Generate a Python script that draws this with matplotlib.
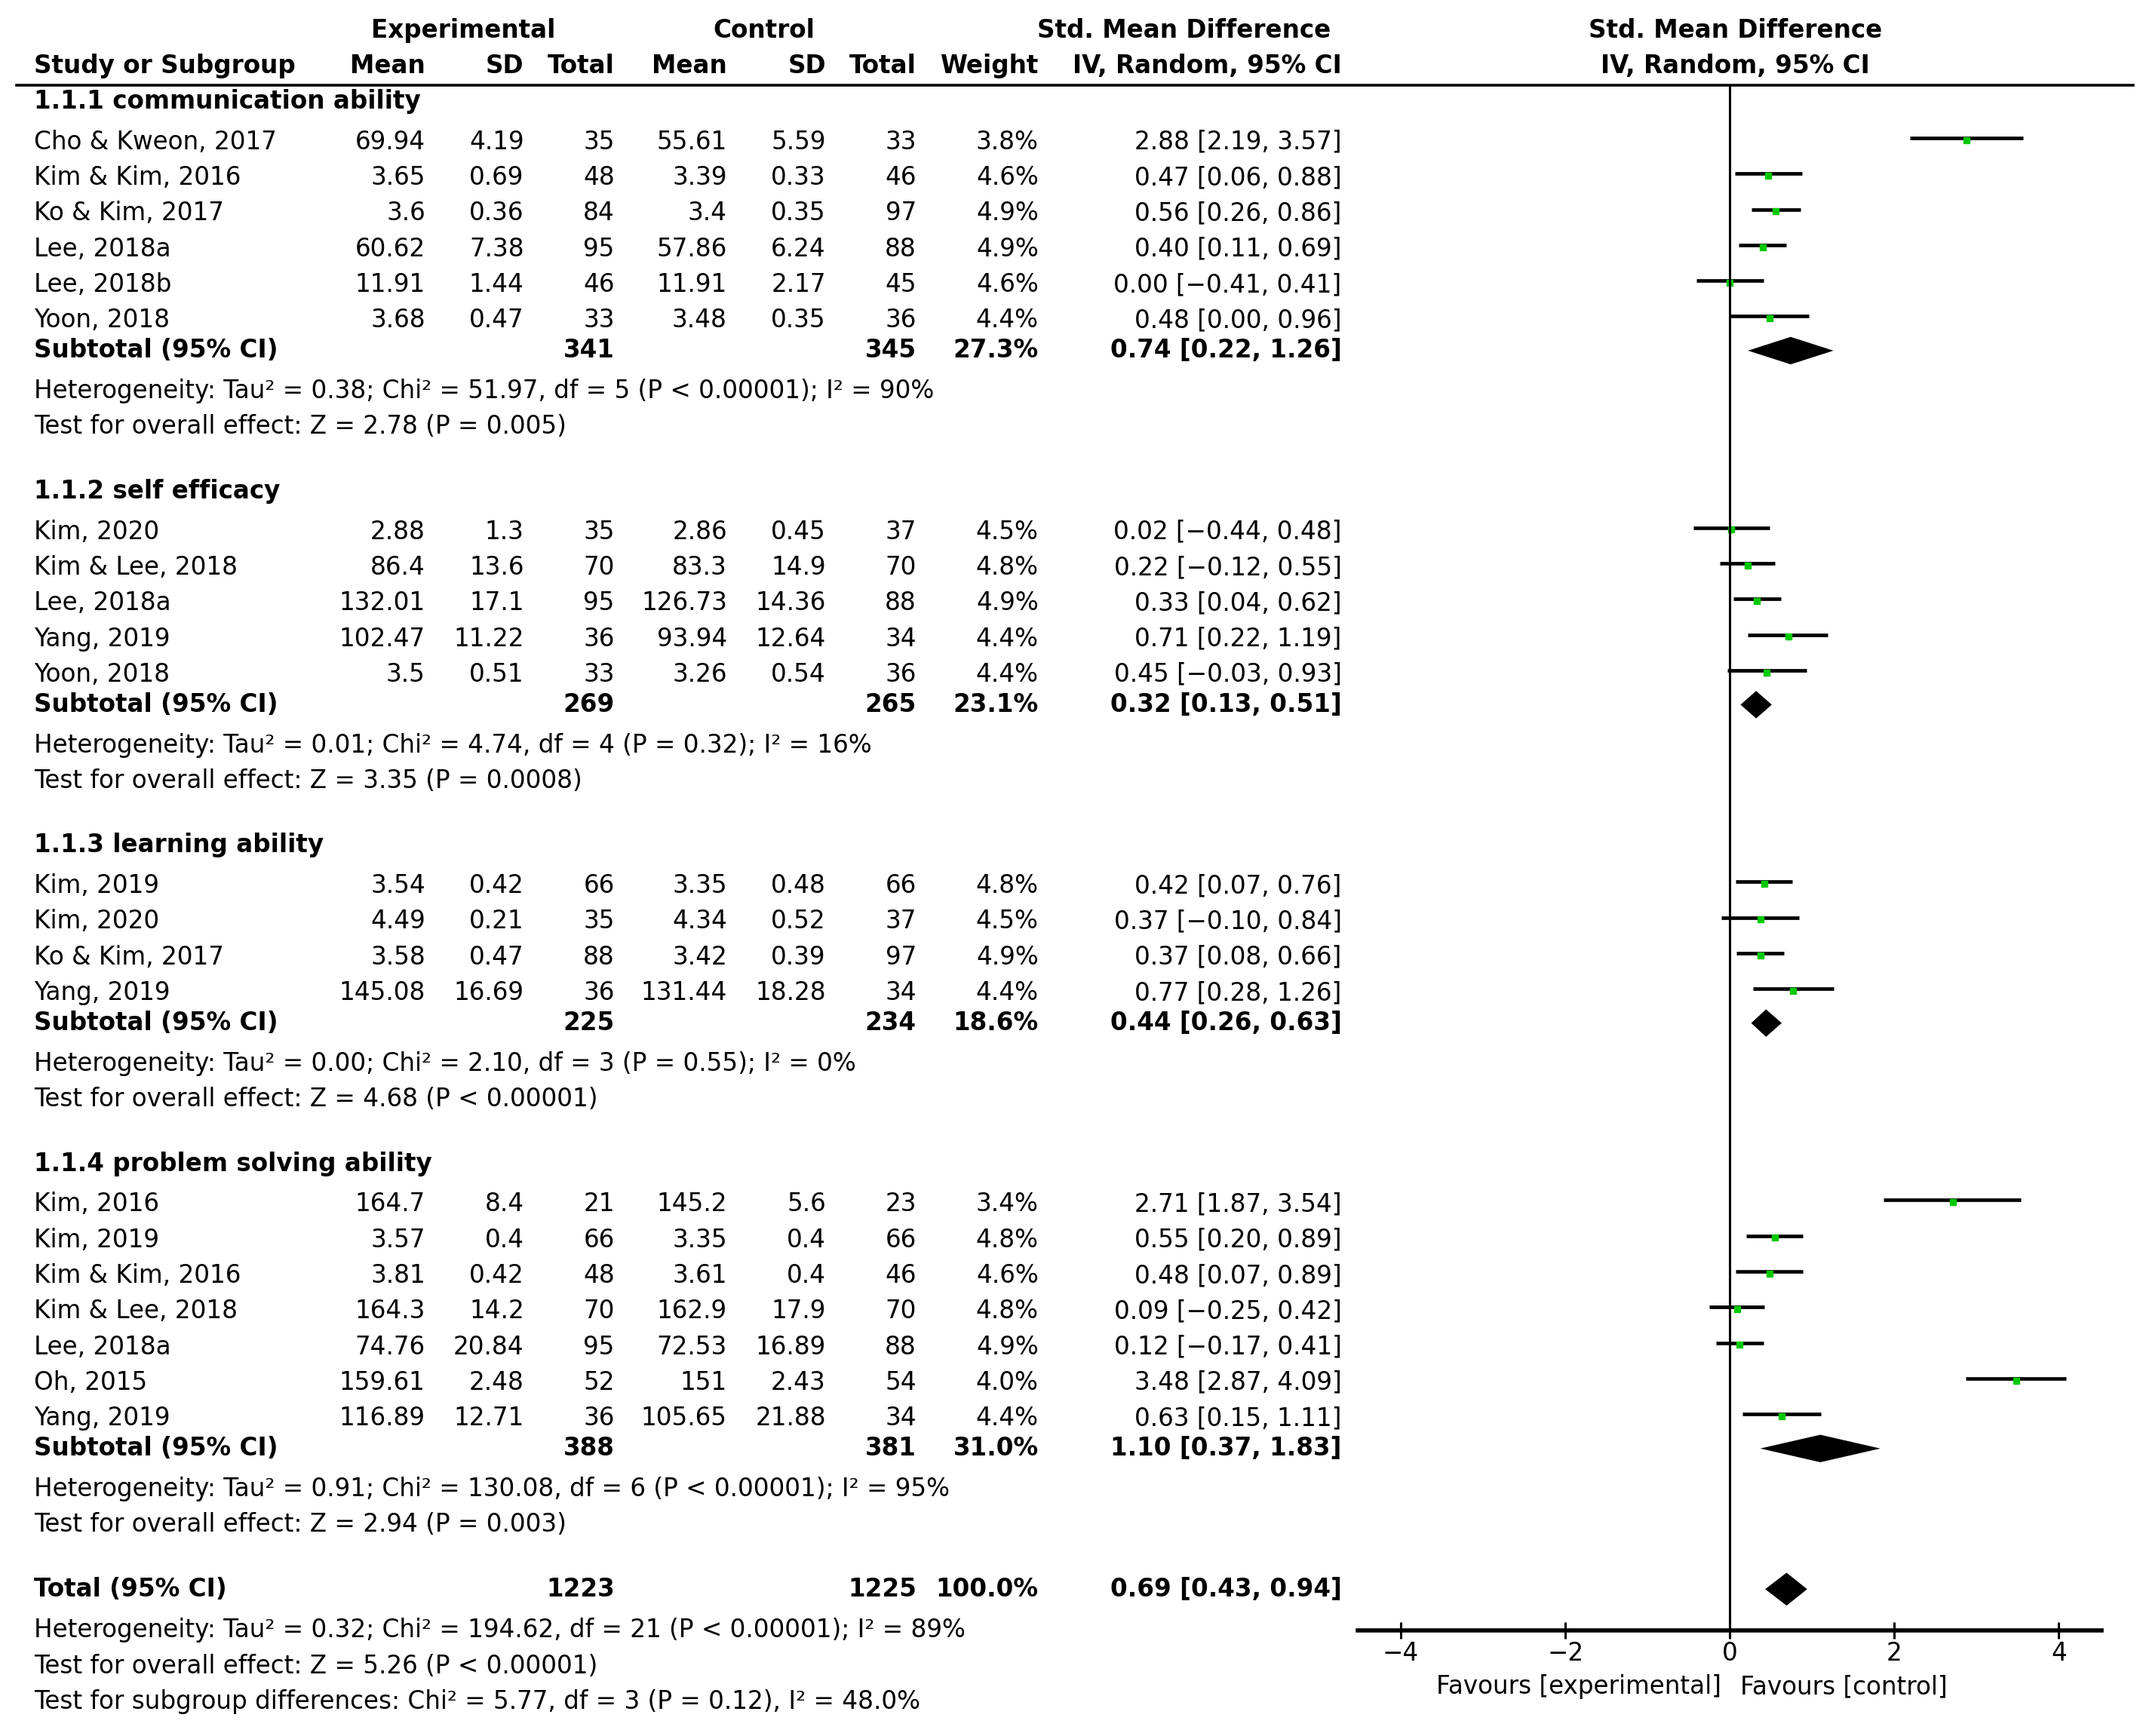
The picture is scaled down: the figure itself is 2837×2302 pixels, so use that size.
import numpy as np
import matplotlib
matplotlib.use("Agg")
import matplotlib.pyplot as plt

# ---- data ----
groups = ["1.1.1 communication ability", "1.1.2 self efficacy",
          "1.1.3 learning ability", "1.1.4 problem solving ability"]

study_names = [
    ["Cho & Kweon, 2017", "Kim & Kim, 2016", "Ko & Kim, 2017", "Lee, 2018a", "Lee, 2018b", "Yoon, 2018"],
    ["Kim, 2020", "Kim & Lee, 2018", "Lee, 2018a", "Yang, 2019", "Yoon, 2018"],
    ["Kim, 2019", "Kim, 2020", "Ko & Kim, 2017", "Yang, 2019"],
    ["Kim, 2016", "Kim, 2019", "Kim & Kim, 2016", "Kim & Lee, 2018", "Lee, 2018a", "Oh, 2015", "Yang, 2019"],
]
exp_mean = [["69.94", "3.65", "3.6", "60.62", "11.91", "3.68"],
            ["2.88", "86.4", "132.01", "102.47", "3.5"],
            ["3.54", "4.49", "3.58", "145.08"],
            ["164.7", "3.57", "3.81", "164.3", "74.76", "159.61", "116.89"]]
exp_sd = [["4.19", "0.69", "0.36", "7.38", "1.44", "0.47"],
          ["1.3", "13.6", "17.1", "11.22", "0.51"],
          ["0.42", "0.21", "0.47", "16.69"],
          ["8.4", "0.4", "0.42", "14.2", "20.84", "2.48", "12.71"]]
exp_n = [[35, 48, 84, 95, 46, 33],
         [35, 70, 95, 36, 33],
         [66, 35, 88, 36],
         [21, 66, 48, 70, 95, 52, 36]]
ctl_mean = [["55.61", "3.39", "3.4", "57.86", "11.91", "3.48"],
            ["2.86", "83.3", "126.73", "93.94", "3.26"],
            ["3.35", "4.34", "3.42", "131.44"],
            ["145.2", "3.35", "3.61", "162.9", "72.53", "151", "105.65"]]
ctl_sd = [["5.59", "0.33", "0.35", "6.24", "2.17", "0.35"],
          ["0.45", "14.9", "14.36", "12.64", "0.54"],
          ["0.48", "0.52", "0.39", "18.28"],
          ["5.6", "0.4", "0.4", "17.9", "16.89", "2.43", "21.88"]]
ctl_n = [[33, 46, 97, 88, 45, 36],
         [37, 70, 88, 34, 36],
         [66, 37, 97, 34],
         [23, 66, 46, 70, 88, 54, 34]]
weight = [[3.8, 4.6, 4.9, 4.9, 4.6, 4.4],
          [4.5, 4.8, 4.9, 4.4, 4.4],
          [4.8, 4.5, 4.9, 4.4],
          [3.4, 4.8, 4.6, 4.8, 4.9, 4.0, 4.4]]
smd = [[2.88, 0.47, 0.56, 0.40, 0.00, 0.48],
       [0.02, 0.22, 0.33, 0.71, 0.45],
       [0.42, 0.37, 0.37, 0.77],
       [2.71, 0.55, 0.48, 0.09, 0.12, 3.48, 0.63]]
ci_lo = [[2.19, 0.06, 0.26, 0.11, -0.41, 0.00],
         [-0.44, -0.12, 0.04, 0.22, -0.03],
         [0.07, -0.10, 0.08, 0.28],
         [1.87, 0.20, 0.07, -0.25, -0.17, 2.87, 0.15]]
ci_hi = [[3.57, 0.88, 0.86, 0.69, 0.41, 0.96],
         [0.48, 0.55, 0.62, 1.19, 0.93],
         [0.76, 0.84, 0.66, 1.26],
         [3.54, 0.89, 0.89, 0.42, 0.41, 4.09, 1.11]]

sub_exp_n = [341, 269, 225, 388]
sub_ctl_n = [345, 265, 234, 381]
sub_weight = [27.3, 23.1, 18.6, 31.0]
sub_smd = [0.74, 0.32, 0.44, 1.10]
sub_lo = [0.22, 0.13, 0.26, 0.37]
sub_hi = [1.26, 0.51, 0.63, 1.83]
sub_het = ["Heterogeneity: Tau² = 0.38; Chi² = 51.97, df = 5 (P < 0.00001); I² = 90%",
           "Heterogeneity: Tau² = 0.01; Chi² = 4.74, df = 4 (P = 0.32); I² = 16%",
           "Heterogeneity: Tau² = 0.00; Chi² = 2.10, df = 3 (P = 0.55); I² = 0%",
           "Heterogeneity: Tau² = 0.91; Chi² = 130.08, df = 6 (P < 0.00001); I² = 95%"]
sub_test = ["Test for overall effect: Z = 2.78 (P = 0.005)",
            "Test for overall effect: Z = 3.35 (P = 0.0008)",
            "Test for overall effect: Z = 4.68 (P < 0.00001)",
            "Test for overall effect: Z = 2.94 (P = 0.003)"]

total_exp_n, total_ctl_n, total_weight = 1223, 1225, 100.0
total_smd, total_lo, total_hi = 0.69, 0.43, 0.94
total_notes = ["Heterogeneity: Tau² = 0.32; Chi² = 194.62, df = 21 (P < 0.00001); I² = 89%",
               "Test for overall effect: Z = 5.26 (P < 0.00001)",
               "Test for subgroup differences: Chi² = 5.77, df = 3 (P = 0.12), I² = 48.0%"]

x_ticks = [-4, -2, 0, 2, 4]

# ---- layout ----
W, H = 1560, 1265
fs = 23.5
plt.rcParams['font.family'] = ['DejaVu Sans']

fig = plt.figure(figsize=(28.37, 23.02), dpi=100)
ax = fig.add_axes([0, 0, 1, 1])
ax.set_xlim(0, W)
ax.set_ylim(H, 0)
ax.axis("off")

axis_y = 1188
fx0, fx1 = 990, 1532
fa = fig.add_axes([fx0 / W, (H - axis_y) / H, (fx1 - fx0) / W, axis_y / H])
fa.set_xlim(-4.52, 4.52)
fa.set_ylim(axis_y, 0)
fa.patch.set_alpha(0)
for s in ["top", "left", "right"]:
    fa.spines[s].set_visible(False)
fa.spines["bottom"].set_linewidth(4)
fa.set_yticks([])
fa.set_xticks(x_ticks)
fa.tick_params(axis="x", direction="inout", length=16, width=2.2, labelsize=fs, pad=2)

cols = [310, 382, 448, 530, 602, 668, 757, 978]


def txt(x, y, s, ha="left", bold=False):
    ax.text(x, y, s, ha=ha, va="center", fontsize=fs,
            fontweight="bold" if bold else "normal")


def fmt_ci(e, lo, hi):
    return f"{e:.2f} [{lo:.2f}, {hi:.2f}]".replace("-", "−")


# header
txt(338, 22, "Experimental", "center", True)
txt(557, 22, "Control", "center", True)
txt(863, 22, "Std. Mean Difference", "center", True)
txt(1265, 22, "Std. Mean Difference", "center", True)
txt(25, 48, "Study or Subgroup", bold=True)
for x, h in zip(cols, ["Mean", "SD", "Total", "Mean", "SD", "Total", "Weight", "IV, Random, 95% CI"]):
    txt(x, 48, h, "right", True)
txt(1265, 48, "IV, Random, 95% CI", "center", True)
ax.plot([12, 1555], [62, 62], color="black", lw=2.6)

green = "#00c800"
y = 74
for g in range(len(groups)):
    txt(25, y, groups[g], bold=True)
    y += 29.5
    for i in range(len(study_names[g])):
        txt(25, y, study_names[g][i])
        vals = [exp_mean[g][i], exp_sd[g][i], str(exp_n[g][i]),
                ctl_mean[g][i], ctl_sd[g][i], str(ctl_n[g][i]),
                f"{weight[g][i]:.1f}%", fmt_ci(smd[g][i], ci_lo[g][i], ci_hi[g][i])]
        for x, v in zip(cols, vals):
            txt(x, y, v, "right")
        fa.plot([ci_lo[g][i], ci_hi[g][i]], [y - 3, y - 3], color="black", lw=3.4, solid_capstyle="butt")
        fa.plot(smd[g][i], y - 1.5, marker="s", color=green, markersize=6, mec=green)
        y += 26
    y -= 4
    txt(25, y, "Subtotal (95% CI)", bold=True)
    txt(cols[2], y, str(sub_exp_n[g]), "right", True)
    txt(cols[5], y, str(sub_ctl_n[g]), "right", True)
    txt(cols[6], y, f"{sub_weight[g]:.1f}%", "right", True)
    txt(cols[7], y, fmt_ci(sub_smd[g], sub_lo[g], sub_hi[g]), "right", True)
    fa.fill([sub_lo[g], sub_smd[g], sub_hi[g], sub_smd[g]], [y, y - 10, y, y + 10],
            color="black", lw=0)
    y += 29.5
    txt(25, y, sub_het[g])
    y += 26
    txt(25, y, sub_test[g])
    y += 47

txt(25, y, "Total (95% CI)", bold=True)
txt(cols[2], y, str(total_exp_n), "right", True)
txt(cols[5], y, str(total_ctl_n), "right", True)
txt(cols[6], y, f"{total_weight:.1f}%", "right", True)
txt(cols[7], y, fmt_ci(total_smd, total_lo, total_hi), "right", True)
fa.fill([total_lo, total_smd, total_hi, total_smd], [y, y - 12, y, y + 12], color="black", lw=0)
y += 30
for note in total_notes:
    txt(25, y, note)
    y += 26

fa.vlines(0, 62, axis_y, color="black", lw=2.2)
fa.text(-0.1, 1229, "Favours [experimental]", ha="right", va="center", fontsize=fs, clip_on=False)
fa.text(0.13, 1229, "Favours [control]", ha="left", va="center", fontsize=fs, clip_on=False)

fig.savefig("out.png", dpi=100)
